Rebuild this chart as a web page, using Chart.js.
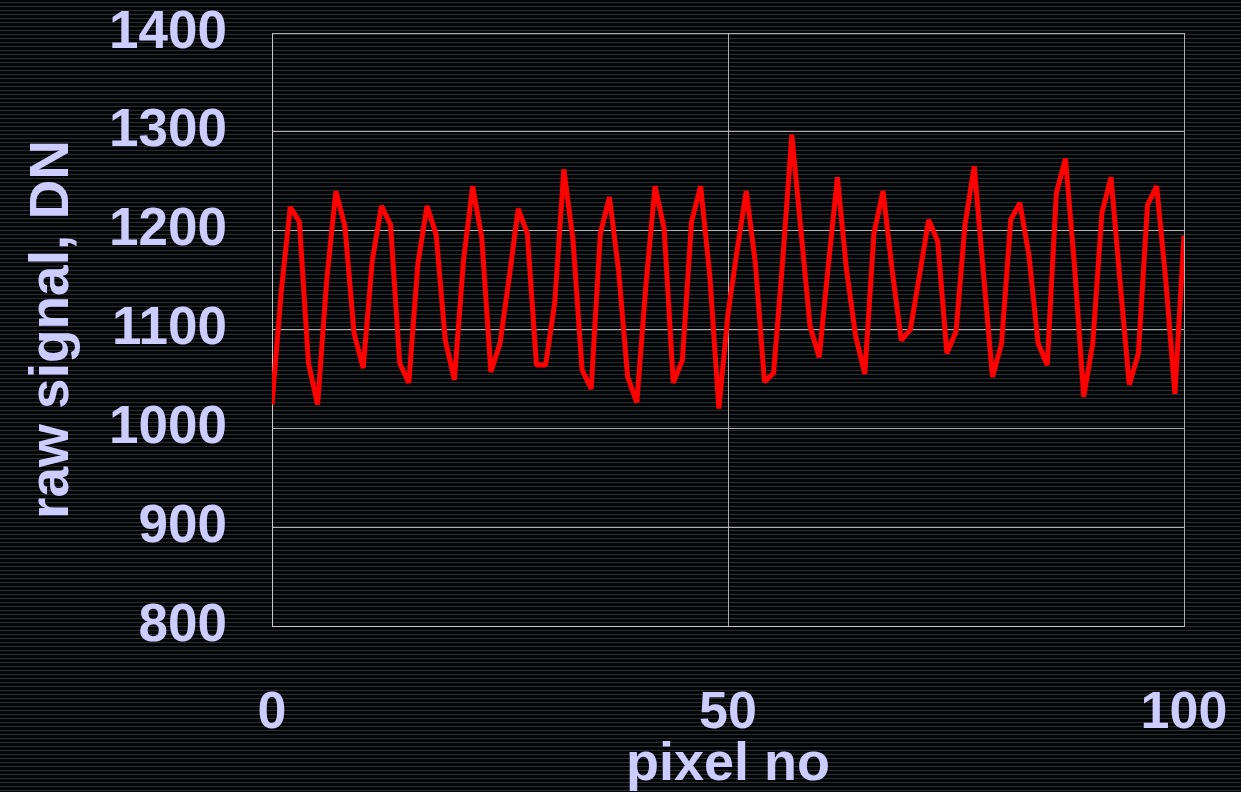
<!DOCTYPE html>
<html>
<head>
<meta charset="utf-8">
<script src="https://cdn.jsdelivr.net/npm/chart.js@4/dist/chart.umd.min.js"></script>
<style>
  html, body { margin: 0; padding: 0; }
  body {
    width: 1241px; height: 792px; overflow: hidden;
    background-color: #040507;
    background-image: repeating-linear-gradient(to bottom,
      rgba(0,0,0,0) 0px, rgba(0,0,0,0) 2px,
      rgba(120,130,140,0.32) 2px, rgba(120,130,140,0.32) 3px,
      rgba(0,0,0,0) 3px, rgba(0,0,0,0) 4px);
  }
  canvas { display: block; }
</style>
</head>
<body>
<canvas id="signalChart" width="1241" height="792"></canvas>
<script>
// raw signal per pixel, pixel no 0..100
const rawSignal = [
  1024, 1137, 1224, 1209, 1066, 1024, 1150, 1240, 1204, 1096,
  1061, 1170, 1225, 1206, 1066, 1046, 1167, 1225, 1196, 1089,
  1049, 1170, 1245, 1193, 1057, 1086, 1152, 1222, 1197, 1064,
  1064, 1127, 1262, 1191, 1059, 1040, 1197, 1234, 1160, 1052,
  1026, 1145, 1245, 1202, 1046, 1069, 1209, 1245, 1155, 1020,
  1116, 1180, 1240, 1167, 1047, 1056, 1170, 1297, 1200, 1103,
  1072, 1165, 1254, 1160, 1093, 1055, 1197, 1240, 1160, 1089,
  1100, 1155, 1211, 1189, 1076, 1098, 1207, 1265, 1158, 1052,
  1086, 1211, 1228, 1175, 1086, 1064, 1238, 1273, 1164, 1032,
  1086, 1218, 1254, 1147, 1044, 1076, 1226, 1245, 1150, 1035,
  1195
];
const xTicks = [0, 50, 100];
const yTicks = [800, 900, 1000, 1100, 1200, 1300, 1400];

const textColor = '#ccccff';
const gridColor = 'rgba(205,205,205,0.85)';
const fontFamily = "'Liberation Sans', Arial, sans-serif";

const puntos = rawSignal.map((v, i) => ({ x: i, y: v }));

new Chart(document.getElementById('signalChart'), {
  type: 'line',
  data: {
    datasets: [{
      data: puntos,
      borderColor: '#ff0000',
      borderWidth: 5,
      borderJoinStyle: 'bevel',
      pointRadius: 0,
      tension: 0,
      fill: false
    }]
  },
  options: {
    responsive: false,
    animation: false,
    layout: { padding: 0 },
    plugins: { legend: { display: false }, tooltip: { enabled: false } },
    scales: {
      x: {
        type: 'linear',
        min: 0, max: 100,
        afterBuildTicks: s => { s.ticks = xTicks.map(v => ({ value: v })); },
        afterFit: s => {
          s.height = 166;
          s.paddingLeft = 0;
          s.paddingRight = 57;
        },
        ticks: {
          color: textColor,
          font: { family: fontFamily, size: 52, weight: 'bold' },
          padding: 56,
          maxRotation: 0,
          callback: v => String(v)
        },
        grid: { color: gridColor, lineWidth: 1, drawTicks: false },
        border: { color: gridColor },
        title: {
          display: true,
          text: 'pixel no',
          color: textColor,
          font: { family: fontFamily, size: 54, weight: 'bold' },
          padding: { top: 0, bottom: -6 }
        }
      },
      y: {
        min: 800, max: 1400,
        afterBuildTicks: s => { s.ticks = yTicks.map(v => ({ value: v })); },
        afterFit: s => {
          s.width = 272;
          s.paddingTop = 33;
          s.paddingBottom = 0;
        },
        ticks: {
          color: textColor,
          font: { family: fontFamily, size: 53, weight: 'bold' },
          padding: 45,
          callback: v => String(v)
        },
        grid: { color: gridColor, lineWidth: 1, drawTicks: false },
        border: { color: gridColor },
        title: {
          display: true,
          text: 'raw signal, DN',
          color: textColor,
          font: { family: fontFamily, size: 55, weight: 'bold' },
          padding: { top: 20, bottom: 0 }
        }
      }
    }
  }
});
</script>
</body>
</html>
